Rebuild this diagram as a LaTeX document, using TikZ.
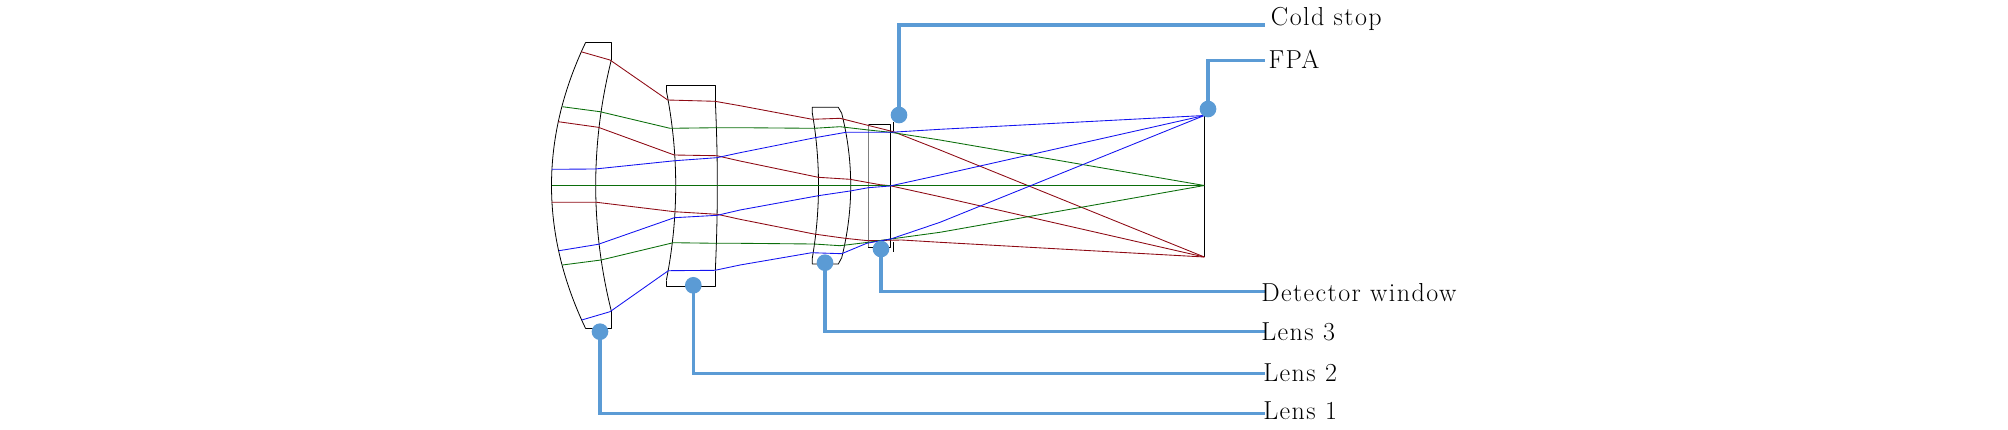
\documentclass[tikz,border=0pt]{standalone}
\usepackage{fontspec}
\newfontfamily\tagfont[LetterSpace=5.5]{Latin Modern Roman}
\definecolor{callout}{HTML}{5B9BD5}
\definecolor{rayred}{HTML}{8E0A14}
\definecolor{raygreen}{HTML}{0B6E0B}
\definecolor{rayblue}{HTML}{1414F0}
\tikzset{
  lens/.style={black,line width=0.6pt,line join=round},
  lensgray/.style={gray,line width=0.7pt},
  redray/.style={rayred,line width=0.65pt,line join=round},
  greenray/.style={raygreen,line width=0.65pt,line join=round},
  blueray/.style={rayblue,line width=0.65pt,line join=round},
  dot/.style={circle,fill=callout,draw=none,minimum size=12.5pt,inner sep=0pt},
  leader/.style={callout,line width=2.3pt},
  tag/.style={anchor=base west,inner sep=0pt,font=\tagfont\fontsize{19.5}{22}\selectfont}
}
% surface: vertex x, edge x, half height
\newcommand{\surfline}[3]{plot[domain=-#3:#3,samples=41,smooth] ({#1+(#2-#1)*(\x/#3)*(\x/#3)},{185.5+\x})}
\begin{document}
\begin{tikzpicture}[x=0.75pt,y=-0.75pt]
\useasboundingbox (0,0) rectangle (2008,429);
% lens 1
\draw[lens] \surfline{551.5}{585.7}{143.2};
\draw[lens] \surfline{595.7}{611.3}{125.5};
\draw[lens] (585.7,42.3) -- (611.3,42.3) -- (611.3,60);
\draw[lens] (585.7,328.7) -- (611.3,328.7) -- (611.3,311);
% lens 2
\draw[lens] \surfline{675.7}{666.3}{95};
\draw[lens] \surfline{717.3}{715.3}{85};
\draw[lens] (666.3,90.5) -- (666.3,85.3) -- (715.3,85.3) -- (715.3,100.5);
\draw[lens] (666.3,280.5) -- (666.3,286.3) -- (715.3,286.3) -- (715.3,270.5);
% lens 3
\draw[lens] \surfline{818.5}{812.3}{72.5};
\draw[lens] \surfline{850.7}{841.7}{72.2};
\draw[lens] (812.3,113) -- (812.3,107.3) -- (838.3,107.3) -- (841.7,113.3);
\draw[lens] (812.3,258) -- (812.3,264) -- (838.3,264) -- (841.7,257.7);
% detector window
\draw[lens] (868.3,124.3) -- (890.7,124.3) -- (890.7,247.3) -- (868.3,247.3);
\draw[lensgray] (868.3,124.3) -- (868.3,247.3);
% cold stop
\draw[lens] (893.3,122) -- (893.3,131);
\draw[lens] (893.3,242) -- (893.3,252);
% FPA
\draw[lens] (1204.3,115.5) -- (1204.3,257);
% rays
\draw[redray] (581,51.7) -- (610,60) -- (667.7,100) -- (715,101.3) -- (740,105.7) -- (812.3,119.3) -- (840,118.3) -- (893.3,131.7) -- (940,150) -- (1204.3,257);
\draw[redray] (558.3,121.7) -- (598.3,127.3) -- (674.3,155) -- (716.7,155.7) -- (740,161) -- (818.3,177.3) -- (850,179.3) -- (880,184.7) -- (890,185.7) -- (940,196.7) -- (1204.3,257);
\draw[redray] (551.7,202.3) -- (596.7,202.3) -- (674.3,211.7) -- (717.3,214.3) -- (740,219.3) -- (814,234) -- (845,238.3) -- (868,240.7) -- (901.7,240) -- (940,242.3) -- (1204.3,257);
\draw[greenray] (562.3,106.7) -- (600,111.7) -- (670,128.3) -- (717.3,127.7) -- (740,127.7) -- (814,128.3) -- (840,126.7) -- (868.3,130) -- (890.7,132.3) -- (940,140) -- (1204.3,185.5);
\draw[greenray] (551.5,185.5) -- (1204.3,185.5);
\draw[greenray] (562.3,265) -- (601,260) -- (673.3,242.7) -- (717.3,243.3) -- (740,243.3) -- (814,244) -- (840,245.7) -- (868.3,242.3) -- (890.7,239) -- (940,232.3) -- (1204.3,185.5);
\draw[blueray] (551.7,169.3) -- (595,169) -- (675,160.7) -- (716.7,157.7) -- (740,152.7) -- (815,137.7) -- (846,132.3) -- (890.7,132.3) -- (940,129.3) -- (1204.3,115.5);
\draw[blueray] (559,250.7) -- (598.3,244.3) -- (674.3,217.7) -- (717.3,215.3) -- (740,210) -- (818.3,195.7) -- (850,191) -- (868.3,187.7) -- (890,186) -- (940,175) -- (1204.3,115.5);
\draw[blueray] (581.7,320) -- (610,311.7) -- (668.3,270.7) -- (715,270.3) -- (740,265) -- (811.7,252.7) -- (841.7,253.7) -- (866.7,243.3) -- (890.7,239) -- (940,222.3) -- (1204.3,115.5);
% dots
\node[dot] (dcold) at (899,115) {};
\node[dot] (dfpa) at (1208,109) {};
\node[dot] (dwin) at (881,249) {};
\node[dot] (dl3) at (825,262.7) {};
\node[dot] (dl2) at (693.3,285.3) {};
\node[dot] (dl1) at (600,331.7) {};
% leader ends
\coordinate (ecold) at (1264.5,25);
\coordinate (efpa) at (1264.5,60.7);
\coordinate (ewin) at (1264.5,291.7);
\coordinate (el3) at (1264.5,331.5);
\coordinate (el2) at (1264.5,373.3);
\coordinate (el1) at (1264.5,413.5);
\draw[leader] (dcold.center) |- (ecold);
\draw[leader] (dfpa.center) |- (efpa);
\draw[leader] (dwin.center) |- (ewin);
\draw[leader] (dl3.center) |- (el3);
\draw[leader] (dl2.center) |- (el2);
\draw[leader] (dl1.center) |- (el1);
% labels
\node[tag] (tcold) at (1270.7,25) {Cold stop};
\node[tag] (tfpa) at (1268.3,68) {FPA};
\node[tag] (twin) at (1261,301) {Detector window};
\node[tag] (tl3) at (1261,340.7) {Lens 3};
\node[tag] (tl2) at (1263,381.7) {Lens 2};
\node[tag] (tl1) at (1263,419) {Lens 1};
\end{tikzpicture}
\end{document}
